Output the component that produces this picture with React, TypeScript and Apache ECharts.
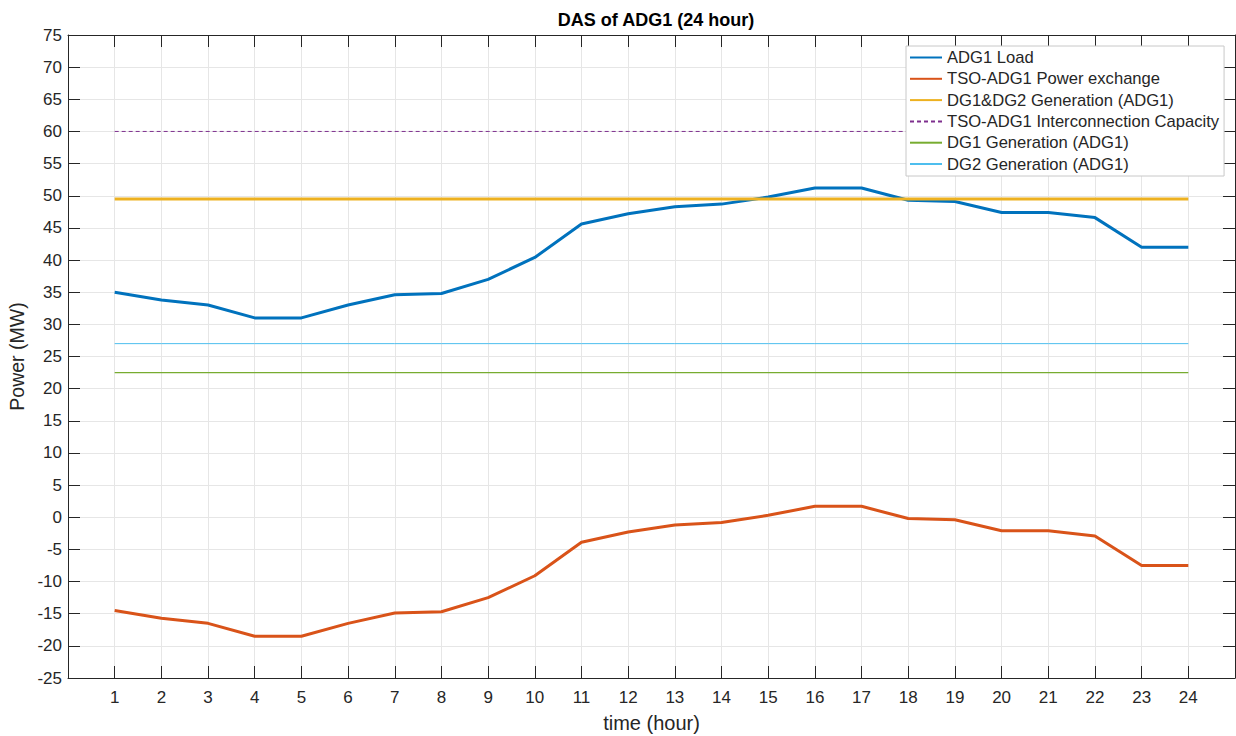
import React, { useEffect, useRef } from "react";
import * as echarts from "echarts";

const hours = [1, 2, 3, 4, 5, 6, 7, 8, 9, 10, 11, 12, 13, 14, 15, 16, 17, 18, 19, 20, 21, 22, 23, 24];

const adg1Load = [35, 33.8, 33, 31, 31, 33, 34.6, 34.8, 37, 40.4, 45.6, 47.2, 48.3, 48.7, 49.8, 51.2, 51.2, 49.3, 49.1, 47.4, 47.4, 46.6, 42, 42];

const tsoExchange = [-14.5, -15.7, -16.5, -18.5, -18.5, -16.5, -14.9, -14.7, -12.5, -9.1, -3.9, -2.3, -1.2, -0.8, 0.3, 1.7, 1.7, -0.2, -0.4, -2.1, -2.1, -2.9, -7.5, -7.5];

const dg12Generation = [49.5, 49.5, 49.5, 49.5, 49.5, 49.5, 49.5, 49.5, 49.5, 49.5, 49.5, 49.5, 49.5, 49.5, 49.5, 49.5, 49.5, 49.5, 49.5, 49.5, 49.5, 49.5, 49.5, 49.5];

const interconnectionCapacity = [60, 60, 60, 60, 60, 60, 60, 60, 60, 60, 60, 60, 60, 60, 60, 60, 60, 60, 60, 60, 60, 60, 60, 60];

const dg1Generation = [22.5, 22.5, 22.5, 22.5, 22.5, 22.5, 22.5, 22.5, 22.5, 22.5, 22.5, 22.5, 22.5, 22.5, 22.5, 22.5, 22.5, 22.5, 22.5, 22.5, 22.5, 22.5, 22.5, 22.5];

const dg2Generation = [27, 27, 27, 27, 27, 27, 27, 27, 27, 27, 27, 27, 27, 27, 27, 27, 27, 27, 27, 27, 27, 27, 27, 27];

const seriesNames = [
  "ADG1 Load",
  "TSO-ADG1 Power exchange",
  "DG1&DG2 Generation (ADG1)",
  "TSO-ADG1 Interconnection Capacity",
  "DG1 Generation (ADG1)",
  "DG2 Generation (ADG1)",
];

const FONT = 'Arial, "Liberation Sans", Helvetica, sans-serif';
const AXIS_COLOR = "#262626";
const GRID_COLOR = "#e6e6e6";

const pair = (vals: number[]) => hours.map((h, i) => [h, vals[i]]);

export default function App() {
  const ref = useRef<HTMLDivElement>(null);

  useEffect(() => {
    if (!ref.current) return;
    const chart = echarts.init(ref.current, undefined, { renderer: "svg" });

    const mkLine = (
      name: string,
      data: number[],
      color: string,
      width: number,
      type: any = "solid"
    ) => ({
      name,
      type: "line",
      data: pair(data),
      showSymbol: false,
      symbol: "none",
      color,
      lineStyle: { color, width, type, opacity: 1 },
      itemStyle: { color },
      emphasis: { disabled: true },
    });

    chart.setOption({
      animation: false,
      backgroundColor: "#ffffff",
      textStyle: { fontFamily: FONT },
      title: {
        text: "DAS of ADG1 (24 hour)",
        left: 651,
        top: 6,
        textAlign: "center",
        textStyle: { fontFamily: FONT, fontSize: 18, fontWeight: "bold", color: "#000" },
      },
      grid: { left: 68, right: 1, top: 35, bottom: 58, containLabel: false, outerBoundsMode: "none" },
      legend: {
        orient: "vertical",
        left: 906,
        top: 46,
        padding: [2.5, 5, 3, 3],
        itemGap: 3.3,
        itemWidth: 32,
        itemHeight: 12,
        itemTextGap: 2,
        backgroundColor: "#ffffff",
        borderColor: "#c8c8c8",
        borderWidth: 1,
        borderRadius: 0,
        itemStyle: { opacity: 0 },
        data: seriesNames,
        textStyle: { fontFamily: FONT, fontSize: 16.6, color: "#262626", lineHeight: 18 },
      },
      xAxis: [
        {
          type: "value",
          min: 0,
          max: 25,
          interval: 1,
          name: "time (hour)",
          nameLocation: "middle",
          nameGap: 35,
          nameTextStyle: { fontFamily: FONT, fontSize: 20, color: AXIS_COLOR },
          axisLine: { show: true, onZero: false, lineStyle: { color: AXIS_COLOR, width: 1 } },
          axisTick: { show: true, inside: true, length: 12, lineStyle: { color: AXIS_COLOR } },
          axisLabel: {
            fontFamily: FONT,
            fontSize: 17,
            color: AXIS_COLOR,
            margin: 11,
            formatter: (v: number) => (v >= 1 && v <= 24 ? String(v) : ""),
          },
          splitLine: { show: true, lineStyle: { color: GRID_COLOR, width: 1 } },
        },
        {
          type: "value",
          position: "top",
          min: 0,
          max: 25,
          interval: 1,
          axisLine: { show: true, onZero: false, lineStyle: { color: AXIS_COLOR, width: 1 } },
          axisTick: { show: true, inside: true, length: 12, lineStyle: { color: AXIS_COLOR } },
          axisLabel: { show: false },
          splitLine: { show: false },
        },
      ],
      yAxis: [
        {
          type: "value",
          min: -25,
          max: 75,
          interval: 5,
          name: "Power (MW)",
          nameLocation: "middle",
          nameGap: 37,
          nameTextStyle: { fontFamily: FONT, fontSize: 19.5, color: AXIS_COLOR },
          axisLine: { show: true, onZero: false, lineStyle: { color: AXIS_COLOR, width: 1 } },
          axisTick: { show: true, inside: true, length: 12, lineStyle: { color: AXIS_COLOR } },
          axisLabel: { fontFamily: FONT, fontSize: 17, color: AXIS_COLOR, margin: 6 },
          splitLine: { show: true, lineStyle: { color: GRID_COLOR, width: 1 } },
        },
        {
          type: "value",
          position: "right",
          min: -25,
          max: 75,
          interval: 5,
          axisLine: { show: true, onZero: false, lineStyle: { color: AXIS_COLOR, width: 1 } },
          axisTick: { show: true, inside: true, length: 12, lineStyle: { color: AXIS_COLOR } },
          axisLabel: { show: false },
          splitLine: { show: false },
        },
      ],
      series: [
        mkLine(seriesNames[0], adg1Load, "#0072BD", 3),
        mkLine(seriesNames[1], tsoExchange, "#D95319", 3),
        mkLine(seriesNames[2], dg12Generation, "#EDB120", 3),
        mkLine(seriesNames[3], interconnectionCapacity, "#7E2F8E", 1, [4, 3]),
        mkLine(seriesNames[4], dg1Generation, "#77AC30", 1.2),
        mkLine(seriesNames[5], dg2Generation, "#4DBEEE", 1),
      ],
    });

    return () => chart.dispose();
  }, []);

  return (
    <div
      ref={ref}
      style={{ position: "fixed", left: 0, top: 0, width: 1236, height: 736, background: "#fff" }}
    />
  );
}
